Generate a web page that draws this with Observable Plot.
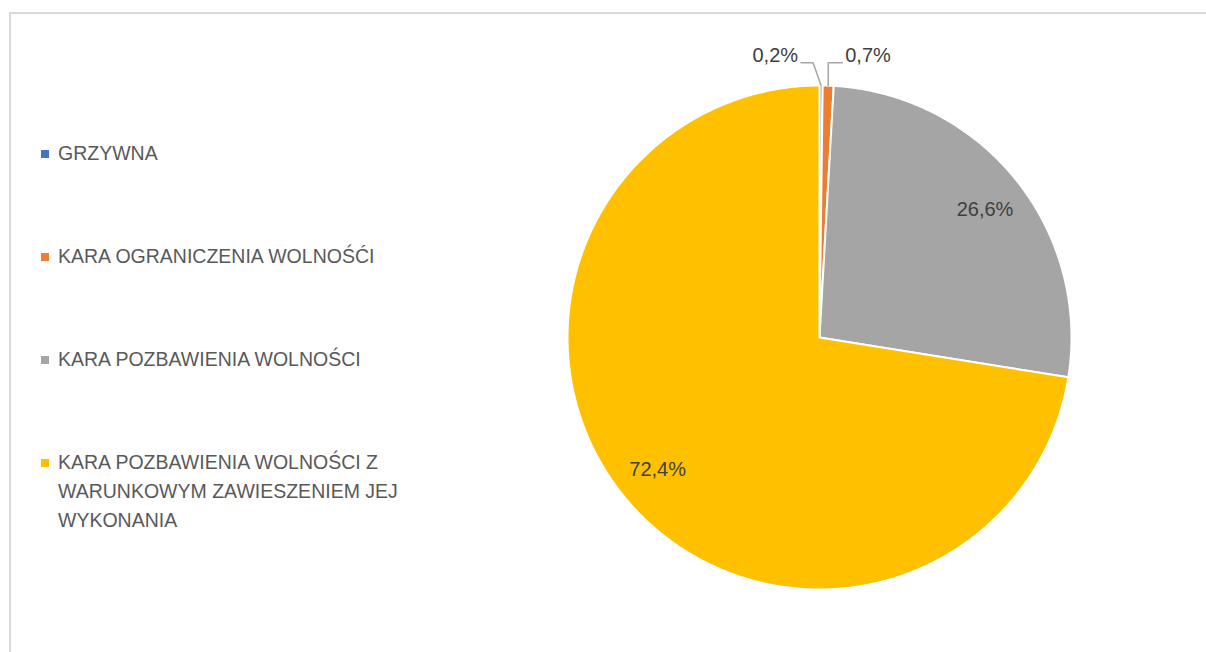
<!DOCTYPE html>
<html>
<head>
<meta charset="utf-8">
<script src="https://cdn.jsdelivr.net/npm/d3@7"></script>
<script src="https://cdn.jsdelivr.net/npm/@observablehq/plot@0.6"></script>
<style>
  html, body { margin: 0; padding: 0; background: #fff; overflow: hidden; }
  #wrap { position: relative; width: 1206px; height: 652px; overflow: hidden; }
  #frame { position: absolute; left: 9px; top: 12px; width: 1300px; height: 800px;
           border-top: 2px solid #d9d9d9; border-left: 2px solid #d9d9d9; box-sizing: border-box; }
  #chart { position: absolute; left: 0; top: 0; }
  #legend { position: absolute; left: 41px; top: 139px; display: flex; flex-direction: column; gap: 74px;
            font-family: "Liberation Sans", Arial, sans-serif; font-size: 19.5px; line-height: 29px; color: #595959; }
  .item { display: flex; align-items: flex-start; }
  .sw { width: 8px; height: 8px; margin-top: 10.5px; margin-right: 9px; flex: none; }
  .lab { width: 370px; }
</style>
</head>
<body>
<div id="wrap">
  <div id="frame"></div>
  <div id="chart"></div>
  <div id="legend"></div>
</div>
<script>
const categories = [
  "GRZYWNA",
  "KARA OGRANICZENIA WOLNOŚĆI",
  "KARA POZBAWIENIA WOLNOŚCI",
  "KARA POZBAWIENIA WOLNOŚCI Z WARUNKOWYM ZAWIESZENIEM JEJ WYKONANIA"
];
const shares = [0.2, 0.7, 26.6, 72.4];
const shareLabels = ["0,2%", "0,7%", "26,6%", "72,4%"];
const colors = ["#4472C4", "#ED7D31", "#A5A5A5", "#FFC000"];

// pie geometry from data (angle 0 = 12 o'clock, clockwise)
const arcs = d3.pie().sort(null).value(d => d)(shares);
const R = 252; // pixel radius, used only for small offsets
const slicePts = [];
arcs.forEach((a, i) => {
  const cat = categories[i];
  slicePts.push({cat, x: 0, y: 0});
  const n = Math.max(2, Math.ceil((a.endAngle - a.startAngle) / (Math.PI / 360)));
  for (let k = 0; k <= n; k++) {
    const t = a.startAngle + (a.endAngle - a.startAngle) * k / n;
    slicePts.push({cat, x: Math.sin(t), y: Math.cos(t)});
  }
});

const mid = a => (a.startAngle + a.endAngle) / 2;
const inner = arcs.map((a, i) => ({i, a})).filter(d => shares[d.i] > 5)
  .map(d => ({label: shareLabels[d.i], x: 0.83 * Math.sin(mid(d.a) + 0.02), y: 0.83 * Math.cos(mid(d.a) + 0.02)}));

// leader lines for the tiny slices
const leaders = [];
const outer = [];
arcs.forEach((a, i) => {
  if (shares[i] > 5) return;
  const m = mid(a);
  const ex = Math.sin(m), ey = Math.cos(m);
  const left = i === 0;
  const bx = left ? ex - 8 / R : ex;
  const by = 1.09;
  const cx = left ? bx - 12 / R : bx + 14 / R;
  leaders.push({id: i, x: ex, y: ey}, {id: i, x: bx, y: by}, {id: i, x: cx, y: by});
  outer.push({label: shareLabels[i], x: cx, y: by, anchor: left ? "end" : "start"});
});

const font = "Liberation Sans, Arial, sans-serif";
const plot = Plot.plot({
  width: 1206,
  height: 652,
  margin: 0,
  x: {domain: [-1, 1], range: [567, 1071], axis: null},
  y: {domain: [-1, 1], range: [589, 85], axis: null},
  color: {domain: categories, range: colors},
  style: {background: "transparent"},
  marks: [
    Plot.line(slicePts, {x: "x", y: "y", z: "cat", fill: "cat", stroke: "white", strokeWidth: 2, curve: "linear-closed"}),
    Plot.line(leaders, {x: "x", y: "y", z: "id", stroke: "#a6a6a6", strokeWidth: 1.5}),
    Plot.text(inner, {x: "x", y: "y", text: "label", fill: "#404040", fontSize: 20, fontFamily: font}),
    Plot.text(outer.filter(d => d.anchor === "end"), {x: "x", y: "y", text: "label", textAnchor: "end", dx: -3, dy: -7, fill: "#404040", fontSize: 20, fontFamily: font}),
    Plot.text(outer.filter(d => d.anchor === "start"), {x: "x", y: "y", text: "label", textAnchor: "start", dx: 3, dy: -7, fill: "#404040", fontSize: 20, fontFamily: font})
  ]
});
document.getElementById("chart").appendChild(plot);

const legend = document.getElementById("legend");
categories.forEach((c, i) => {
  const it = document.createElement("div");
  it.className = "item";
  const sw = document.createElement("span");
  sw.className = "sw";
  sw.style.background = colors[i];
  const lab = document.createElement("span");
  lab.className = "lab";
  lab.textContent = c;
  it.appendChild(sw);
  it.appendChild(lab);
  legend.appendChild(it);
});
</script>
</body>
</html>
